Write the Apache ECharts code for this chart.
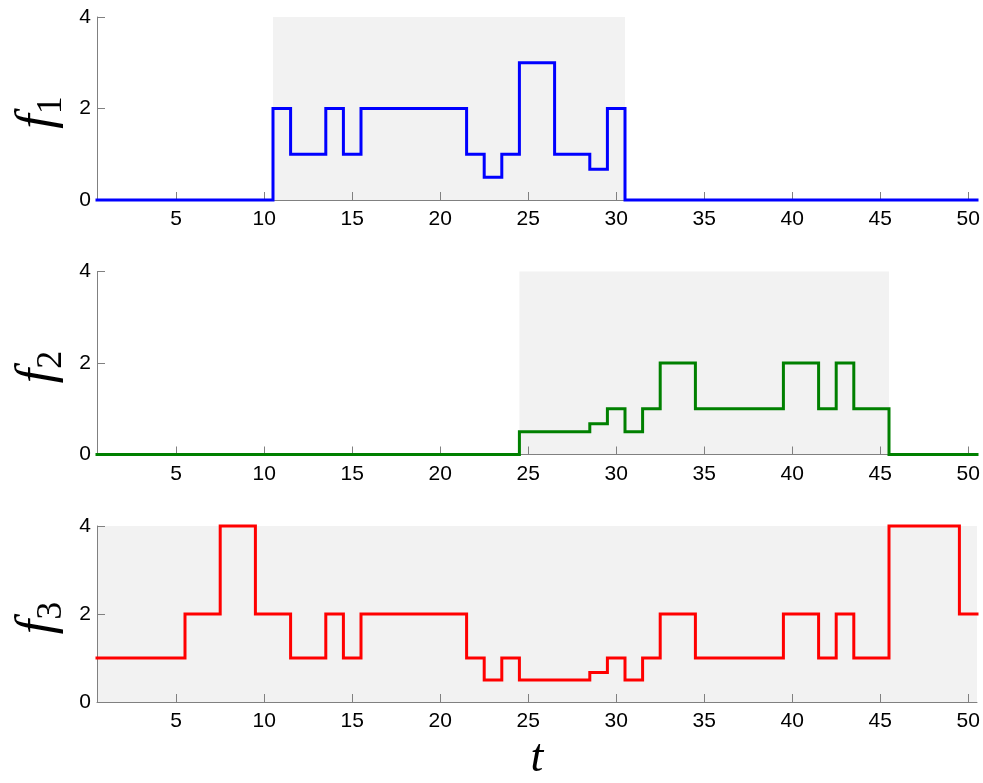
<!DOCTYPE html>
<html>
<head>
<meta charset="utf-8">
<script src="https://cdn.jsdelivr.net/npm/echarts@6/dist/echarts.min.js"></script>
<style>
html,body{margin:0;padding:0;background:#fff;}
#chart{width:983px;height:783px;}
</style>
</head>
<body>
<div id="chart"></div>
<script>
// ---- data ----
var t = [1,2,3,4,5,6,7,8,9,10,11,12,13,14,15,16,17,18,19,20,21,22,23,24,25,26,27,28,29,30,31,32,33,34,35,36,37,38,39,40,41,42,43,44,45,46,47,48,49,50];
var f1 = [0,0,0,0,0,0,0,0,0,0, 2,1,1,2,1,2,2,2,2,2, 2,1,0.5,1,3,3,1,1,0.67,2, 0,0,0,0,0,0,0,0,0,0, 0,0,0,0,0,0,0,0,0,0];
var f2 = [0,0,0,0,0,0,0,0,0,0, 0,0,0,0,0,0,0,0,0,0, 0,0,0,0,0.5,0.5,0.5,0.5,0.67,1, 0.5,1,2,2,1,1,1,1,1,2, 2,1,2,1,1,0,0,0,0,0];
var f3 = [1,1,1,1,1,2,2,4,4,2, 2,1,1,2,1,2,2,2,2,2, 2,1,0.5,1,0.5,0.5,0.5,0.5,0.67,1, 0.5,1,2,2,1,1,1,1,1,2, 2,1,2,1,1,4,4,4,4,2];
var shade1 = [10.5, 30.5];
var shade2 = [24.5, 45.5];
var shade3 = [0.5, 50.5];
var xTicks = [5,10,15,20,25,30,35,40,45,50];
var yTicks = [0,2,4];
var names = ['1','2','3'];
var colors = ['#0000ff','#008000','#ff0000'];

// ---- build ----
function stepData(vals){
  var d = [];
  for (var i = 0; i < t.length; i++) d.push([t[i] - 0.5, vals[i]]);
  d.push([t[t.length-1] + 0.5, vals[vals.length-1]]);
  return d;
}
var series = [f1, f2, f3];
var shades = [shade1, shade2, shade3];
var tops = [17, 271.5, 526];
var heights = [183, 183, 184];
var axisGray = '#808080';

var grids = [], xAxes = [], yAxes = [], ser = [];
for (var k = 0; k < 3; k++){
  grids.push({left: 97, right: 6, top: tops[k], height: heights[k]});
  var xa = {
    type: 'value', gridIndex: k, min: t[0] - 0.5, max: t[t.length-1] + 0.5, z: 1,
    axisLine: {show: true, lineStyle: {color: axisGray, width: 1}},
    axisTick: {show: true, inside: true, length: 8, customValues: xTicks, lineStyle: {color: axisGray}},
    axisLabel: {customValues: xTicks, color: '#000', fontFamily: 'Liberation Sans', fontSize: 21, margin: 9},
    splitLine: {show: false}
  };
  if (k === 2){
    xa.name = 't';
    xa.nameLocation = 'middle';
    xa.nameGap = 34;
    xa.nameTextStyle = {fontFamily: 'Liberation Serif', fontStyle: 'italic', fontSize: 46, color: '#000'};
  }
  xAxes.push(xa);
  yAxes.push({
    type: 'value', gridIndex: k, min: 0, max: 4, z: 1,
    name: '{f|f}{s|' + names[k] + '}',
    nameLocation: 'middle', nameRotate: 90, nameGap: 27, nameMoveOverlap: false,
    nameTextStyle: {
      padding: [0, 8, 0, 0],
      rich: {
        f: {fontFamily: 'Liberation Serif', fontStyle: 'italic', fontSize: 52, lineHeight: 64, color: '#000'},
        s: {fontFamily: 'Liberation Serif', fontSize: 36, lineHeight: 36, verticalAlign: 'bottom', color: '#000'}
      }
    },
    axisLine: {show: true, lineStyle: {color: axisGray, width: 1}},
    axisTick: {show: true, inside: true, length: 8, customValues: yTicks, lineStyle: {color: axisGray}},
    axisLabel: {customValues: yTicks, color: '#000', fontFamily: 'Liberation Sans', fontSize: 21, margin: 6},
    splitLine: {show: false}
  });
  // shading (behind axes)
  ser.push({
    type: 'line', xAxisIndex: k, yAxisIndex: k, z: 0, silent: true,
    data: stepData(series[k]), showSymbol: false,
    lineStyle: {width: 0, opacity: 0},
    markArea: {silent: true, itemStyle: {color: '#f2f2f2'},
      data: [[{xAxis: shades[k][0]}, {xAxis: shades[k][1]}]]}
  });
  ser.push({
    type: 'line', xAxisIndex: k, yAxisIndex: k, z: 2, step: 'end', clip: false,
    data: stepData(series[k]), showSymbol: false, silent: true,
    lineStyle: {width: 3, color: colors[k], cap: 'square', join: 'miter'},
    itemStyle: {color: colors[k]}
  });
}

var chart = echarts.init(document.getElementById('chart'), null, {renderer: 'canvas'});
chart.setOption({
  animation: false,
  backgroundColor: '#fff',
  grid: grids, xAxis: xAxes, yAxis: yAxes, series: ser
});
</script>
</body>
</html>
